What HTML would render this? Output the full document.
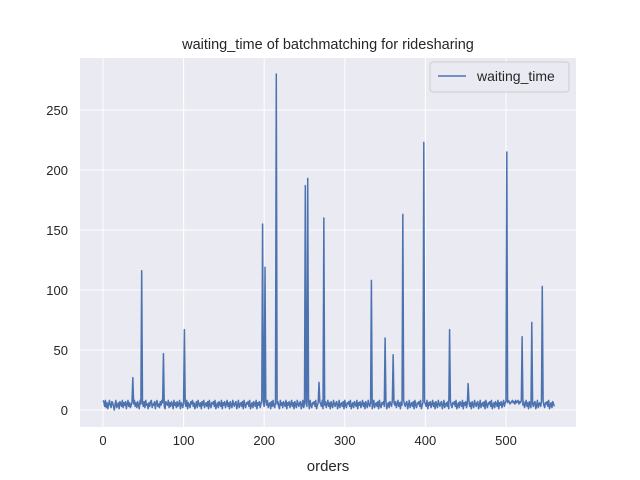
<!DOCTYPE html>
<html><head><meta charset="utf-8"><style>
body{margin:0;background:#fff;}
svg{display:block;font-family:"Liberation Sans",Arial,sans-serif;}
</style></head><body>
<svg id="chart" width="640" height="480" xmlns="http://www.w3.org/2000/svg"></svg>
<script>
const xTicks=[0,100,200,300,400,500];
const yTicks=[0,50,100,150,200,250];
const titleText="waiting_time of batchmatching for ridesharing";
const xLabel="orders";
const seriesName="waiting_time";
const waitingTime=[
8,7,3,8,2,6,1,5,8,4,2,7,6,3,0,5,8,2,4,6,
1,7,5,3,8,2,6,4,7,1,5,8,3,6,2,4,7,27,5,8,
3,6,2,7,4,1,8,5,116,6,3,7,2,8,4,5,1,6,3,7,
8,2,5,4,7,1,6,8,3,5,2,7,4,8,6,47,3,1,7,5,
4,8,2,6,3,7,5,1,8,4,6,2,7,3,5,8,1,6,4,2,
7,67,5,3,8,1,6,4,2,7,5,8,3,6,1,4,7,2,8,5,
3,6,1,7,4,8,2,5,6,3,7,1,8,4,2,6,5,7,3,8,
1,4,6,2,7,5,3,8,1,6,4,7,2,5,8,3,6,1,7,4,
2,8,5,3,6,7,1,4,8,2,5,6,3,7,1,8,4,2,6,5,
7,3,8,1,4,6,2,7,5,3,8,1,6,4,7,2,5,8,155,6,
3,119,7,4,8,2,5,6,1,7,3,8,4,2,6,280,5,7,3,1,
8,4,6,2,7,5,3,8,1,6,4,7,2,5,8,3,6,1,7,4,
2,8,5,3,6,7,1,4,8,2,5,187,6,3,193,7,1,8,4,2,
6,5,7,3,8,1,4,6,23,7,5,3,8,1,160,4,7,2,5,8,
3,6,1,7,4,2,8,5,3,6,7,1,4,8,2,5,6,3,7,1,
8,4,2,6,5,7,3,8,1,4,6,2,7,5,3,8,1,6,4,7,
2,5,8,3,6,1,7,4,2,8,5,3,6,108,1,4,8,2,5,6,
3,7,1,8,4,2,6,5,7,3,60,8,1,4,6,2,7,5,3,8,
46,6,4,7,2,5,8,3,6,1,7,4,163,8,5,3,6,7,1,4,
8,2,5,6,3,7,1,8,4,2,6,5,7,3,8,1,4,6,223,7,
5,3,8,1,6,4,7,2,5,8,3,6,1,7,4,2,8,5,3,6,
7,1,4,8,2,5,6,3,7,1,67,8,4,2,6,5,7,3,8,1,
4,6,2,7,5,3,8,1,6,4,7,2,5,22,8,3,6,1,7,4,
2,8,5,3,6,7,1,4,8,2,5,6,3,7,1,8,4,2,6,5,
7,3,8,1,4,6,2,7,5,3,8,1,6,4,7,2,5,8,3,6,
7,215,6,8,7,5,6,7,8,6,7,5,8,6,7,8,5,7,6,8,
61,4,7,2,5,8,3,6,1,7,4,2,73,5,3,6,7,1,4,8,
2,5,6,3,7,103,8,4,2,6,5,7,3,8,1,4,6,2,7,5,
3
];
const svg=document.getElementById('chart');
const NS='http://www.w3.org/2000/svg';
const L=80,R=576,T=58,B=427;
const xS=v=>103+v*0.806;
const yS=v=>410-v*1.2;
function mk(tag,attrs,parent){const e=document.createElementNS(NS,tag);for(const k in attrs)e.setAttribute(k,attrs[k]);(parent||svg).appendChild(e);return e;}
const bg=mk('rect',{x:L,y:T,width:R-L,height:B-T,fill:'#eaeaf2'});


xTicks.forEach(t=>{
  const g=mk('line',{x1:xS(t),x2:xS(t),y1:T,y2:B,stroke:'#fff','stroke-width':1});
  
  
  const tx=mk('text',{x:xS(t),y:B+18,'text-anchor':'middle','font-size':13,fill:'#262626'});
  tx.textContent=t;
  
  
});
yTicks.forEach(t=>{
  const g=mk('line',{x1:L,x2:R,y1:yS(t),y2:yS(t),stroke:'#fff','stroke-width':1});
  
  
  const tx=mk('text',{x:L-12,y:yS(t)+5,'text-anchor':'end','font-size':13,fill:'#262626'});
  tx.textContent=t;
  
  
});
const d=waitingTime.map((v,i)=>(i?'L':'M')+xS(i).toFixed(2)+' '+yS(v).toFixed(2)).join(' ');
const line=mk('path',{d:d,fill:'none',stroke:'#4c72b0','stroke-width':1.5,'stroke-linejoin':'round'});


const title=mk('text',{x:(L+R)/2,y:T-9,'text-anchor':'middle','font-size':14.5,fill:'#262626'});
title.textContent=titleText;


const xl=mk('text',{x:(L+R)/2,y:471,'text-anchor':'middle','font-size':15,fill:'#262626'});
xl.textContent=xLabel;


const lg=mk('g',{});


mk('rect',{x:430,y:62,width:139,height:30,rx:3,fill:'#eaeaf2',stroke:'#cccccc','stroke-width':1,opacity:0.9},lg);
const ll=mk('line',{x1:438,x2:466,y1:76,y2:76,stroke:'#4c72b0','stroke-width':1.5},lg);


const lt=mk('text',{x:477,y:81,'font-size':14,fill:'#262626'},lg);
lt.textContent=seriesName;


</script>
</body></html>
